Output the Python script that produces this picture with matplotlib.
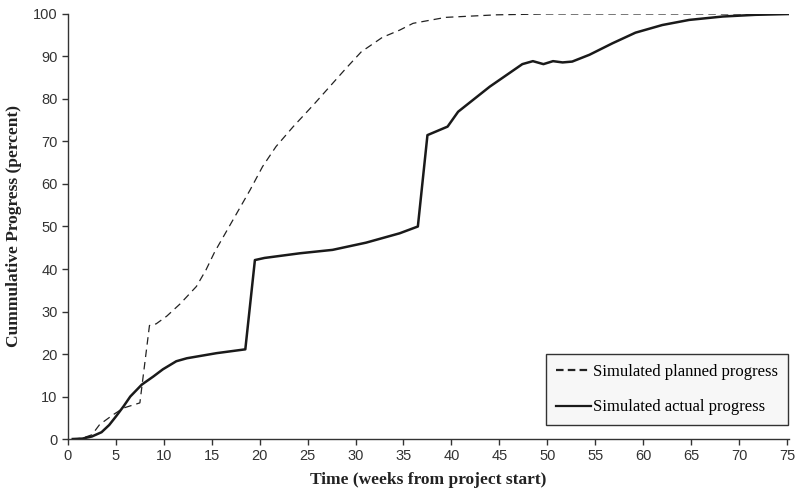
import matplotlib
matplotlib.use("Agg")
import matplotlib.pyplot as plt

# Semanas y avance acumulado
semanas_plan = [0.5, 1.5, 2.5, 3.3, 4.7, 5.8, 7.5, 8.5, 9.2, 10.3, 11.7, 13.4, 14.4,
                15.3, 17.2, 19.0, 20.3, 21.7, 23.5, 25.6, 27.3, 29.0, 30.6, 32.8,
                34.6, 36.0, 39.4, 44.7, 50.0, 75.5]
avance_plan = [0.0, 0.2, 1.0, 3.4, 5.7, 7.3, 8.5, 26.7, 27.1, 28.9, 31.8, 35.9, 39.8,
               44.0, 51.5, 58.6, 64.1, 68.8, 73.5, 78.6, 82.9, 87.2, 91.1, 94.5,
               96.2, 97.8, 99.2, 99.8, 100.0, 100.0]

semanas_real = [0.5, 1.5, 2.5, 3.5, 4.3, 5.0, 5.8, 6.5, 7.7, 8.9, 9.9, 11.3, 12.4,
                15.5, 18.5, 19.5, 20.5, 24.2, 27.6, 31.1, 34.6, 36.5, 37.5, 39.6,
                40.7, 44.0, 47.4, 48.5, 49.6, 50.6, 51.6, 52.6, 54.4, 56.8, 59.2,
                62.0, 64.8, 68.3, 71.7, 75.5]
avance_real = [0.0, 0.1, 0.6, 1.6, 3.3, 5.3, 7.7, 10.0, 12.8, 14.7, 16.4, 18.3, 19.0,
               20.2, 21.1, 42.1, 42.6, 43.7, 44.5, 46.2, 48.4, 50.0, 71.5, 73.5,
               77.0, 82.9, 88.2, 88.9, 88.2, 88.9, 88.6, 88.8, 90.4, 93.1, 95.6,
               97.4, 98.6, 99.4, 99.8, 100.0]

fig = plt.figure(figsize=(7.96, 4.99), dpi=100)
ax = fig.add_axes([0.0854, 0.1202, 0.9056, 0.8518])

ax.plot(semanas_plan, avance_plan, color="#222222", lw=0.9, dashes=(6, 4),
        label="Simulated planned progress")
ax.plot(semanas_real, avance_real, color="#1a1a1a", lw=1.8,
        label="Simulated actual progress")

ax.set_xlim(0, 75.2)
ax.set_ylim(0, 100)
ax.set_xticks(range(0, 76, 5))
ax.set_yticks(range(0, 101, 10))

for lado in ["top", "right"]:
    ax.spines[lado].set_visible(False)
for lado in ["left", "bottom"]:
    ax.spines[lado].set_color("#333333")
    ax.spines[lado].set_linewidth(1.0)

ax.tick_params(direction="out", length=4, width=1, colors="#333333",
               labelsize=10.5, labelcolor="#333333")
for t in ax.get_xticklabels() + ax.get_yticklabels():
    t.set_family("Liberation Sans")

ax.set_xlabel("Time (weeks from project start)", family="Liberation Serif",
              fontweight="bold", fontsize=12.5, color="#222222", labelpad=6)
ax.set_ylabel("Cummulative Progress (percent)", family="Liberation Serif",
              fontweight="bold", fontsize=12.5, color="#222222", labelpad=8)

leg = ax.legend(loc="lower right", bbox_to_anchor=(0.9995, 0.032),
                prop={"family": "Liberation Serif", "size": 12},
                fancybox=False, edgecolor="#333333", facecolor="#f7f7f7",
                framealpha=1, labelspacing=1.15, handlelength=2.1,
                handletextpad=0.15, borderpad=0.6, borderaxespad=0)
leg.get_frame().set_linewidth(1.0)
lineas = leg.get_lines()
for h in lineas:
    h.set_linewidth(1.6)
lineas[0].set_dashes((3.4, 1.9))

fig.savefig("out.png", dpi=100)
